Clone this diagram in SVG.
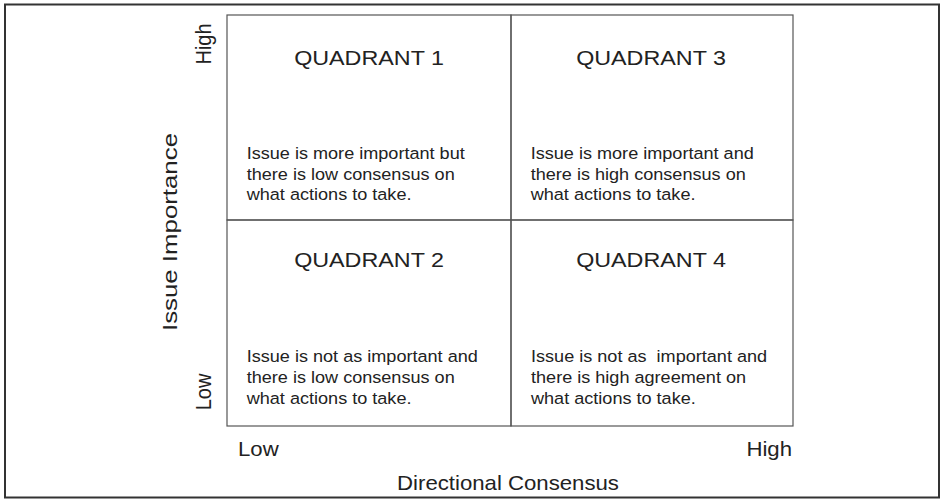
<svg xmlns="http://www.w3.org/2000/svg" width="942" height="500" viewBox="0 0 942 500">
<style>
text{font-family:"Liberation Sans",Arial,Helvetica,sans-serif;fill:#222}
.t{font-size:21px;text-anchor:middle}
.b{font-size:16.3px}
.ax{font-size:20px}
.cell{fill:none;stroke:#555;stroke-width:1.2}
</style>
<rect width="942" height="500" fill="#fff"/>
<rect x="5" y="4.5" width="934" height="493" fill="none" stroke="#333" stroke-width="2"/>
<g id="connectors"></g>
<g id="q1">
<rect x="227" y="15" width="284" height="205" class="cell"/>
<text class="t" transform="translate(369,64.5) scale(1.11,1)">QUADRANT 1</text>
<text class="b" transform="translate(246.7,158.5) scale(1.11,1)">Issue is more important but</text>
<text class="b" transform="translate(246.7,179.5) scale(1.11,1)">there is low consensus on</text>
<text class="b" transform="translate(246.7,200) scale(1.11,1)">what actions to take.</text>
</g>
<g id="q3">
<rect x="511" y="15" width="282" height="205" class="cell"/>
<text class="t" transform="translate(651,64.5) scale(1.11,1)">QUADRANT 3</text>
<text class="b" transform="translate(530.7,158.5) scale(1.11,1)">Issue is more important and</text>
<text class="b" transform="translate(530.7,179.5) scale(1.11,1)">there is high consensus on</text>
<text class="b" transform="translate(530.7,200) scale(1.11,1)">what actions to take.</text>
</g>
<g id="q2">
<rect x="227" y="220" width="284" height="206" class="cell"/>
<text class="t" transform="translate(369,267) scale(1.11,1)">QUADRANT 2</text>
<text class="b" transform="translate(246.7,361.5) scale(1.11,1)">Issue is not as important and</text>
<text class="b" transform="translate(246.7,382.5) scale(1.11,1)">there is low consensus on</text>
<text class="b" transform="translate(246.7,403.5) scale(1.11,1)">what actions to take.</text>
</g>
<g id="q4">
<rect x="511" y="220" width="282" height="206" class="cell"/>
<text class="t" transform="translate(651,267) scale(1.11,1)">QUADRANT 4</text>
<text class="b" transform="translate(531,361.5) scale(1.11,1)" xml:space="preserve">Issue is not as  important and</text>
<text class="b" transform="translate(531,382.5) scale(1.11,1)">there is high agreement on</text>
<text class="b" transform="translate(531,403.5) scale(1.11,1)">what actions to take.</text>
</g>
<g id="y-axis">
<text class="ax" text-anchor="middle" font-size="21" textLength="198" lengthAdjust="spacingAndGlyphs" transform="translate(177,232) rotate(-90)">Issue Importance</text>
<text class="ax" text-anchor="middle" transform="translate(211,44) scale(1.11,1) rotate(-90)">High</text>
<text class="ax" text-anchor="middle" transform="translate(211,392) scale(1.11,1) rotate(-90)">Low</text>
</g>
<g id="x-axis">
<text class="ax" transform="translate(238,456) scale(1.11,1)">Low</text>
<text class="ax" text-anchor="end" transform="translate(792,456) scale(1.11,1)">High</text>
<text class="ax" text-anchor="middle" transform="translate(508,490) scale(1.11,1)">Directional Consensus</text>
</g>
</svg>
